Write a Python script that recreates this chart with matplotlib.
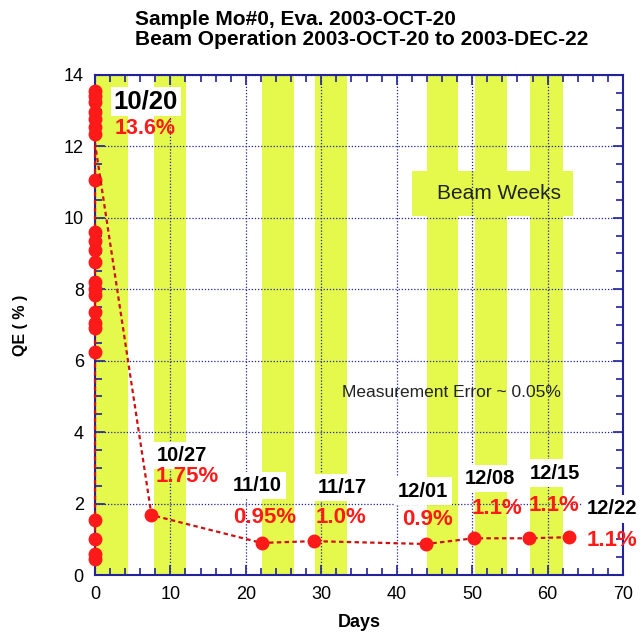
import matplotlib.pyplot as plt
from matplotlib.patches import Rectangle
from matplotlib.ticker import MultipleLocator

plt.rcParams['font.family'] = ['Liberation Sans', 'DejaVu Sans']

# QE measured on the evaporation day (day 0)
day0_qe = [13.55, 13.4, 13.25, 12.95, 12.75, 12.55, 12.35, 11.05, 9.6, 9.35, 9.1,
           8.75, 8.2, 8.0, 7.85, 7.35, 7.05, 6.9, 6.25, 1.55, 1.0, 0.6, 0.45]

# follow-up measurements during beam operation
days = [0, 7.5, 22.1, 29.0, 43.9, 50.2, 57.5, 62.8]
qe = [12.1, 1.68, 0.9, 0.95, 0.87, 1.03, 1.03, 1.06]

# beam weeks (start day, end day)
beam_weeks = [(0, 4.4), (7.8, 12.1), (22.1, 26.4), (29.2, 33.4),
              (44.0, 48.1), (50.4, 54.6), (57.7, 62.1)]

# labels: (text, x, y)
date_labels = [("10/27", 11.6, 3.35), ("11/10", 21.5, 2.5), ("11/17", 32.8, 2.45),
               ("12/01", 43.5, 2.35), ("12/08", 52.4, 2.7), ("12/15", 61.0, 2.85),
               ("12/22", 68.5, 1.85)]
pct_labels = [("1.75%", 12.2, 2.75), ("0.95%", 22.5, 1.6), ("1.0%", 32.6, 1.6),
              ("0.9%", 44.1, 1.56), ("1.1%", 53.3, 1.86), ("1.1%", 60.9, 1.95),
              ("1.1%", 68.5, 0.98)]

yellow = "#e4f94c"
navy = "#22229a"
red = "#ff1a1a"

fig = plt.figure(figsize=(6.41, 6.44), dpi=100)
ax = fig.add_axes([0.148, 0.107, 0.824, 0.777])

for a, b in beam_weeks:
    ax.axvspan(a, b, color=yellow, lw=0, zorder=0)

ax.add_patch(Rectangle((42.0, 10.05), 21.4, 1.25, color=yellow, lw=0, zorder=0))
ax.text(53.5, 10.68, "Beam Weeks", fontsize=15, ha='center', va='center', color='#222222')

ax.grid(True, which='major', color=navy, linestyle=(0, (1, 1.5)), lw=0.9, zorder=1)
ax.set_axisbelow(False)

ax.plot([0] * len(day0_qe), day0_qe, color='#cc1111', ls=(0, (2, 1.5)), lw=1.6,
        marker='o', ms=9, mfc=red, mec=red, zorder=4, clip_on=False)
ax.plot(days, qe, color='#cc1111', ls=(0, (2, 1.5)), lw=1.6, marker='o', ms=9,
        mfc=red, mec=red, markevery=list(range(1, len(days))), zorder=4)

ax.text(6.75, 13.25, "10/20", fontsize=18.5, fontweight='bold', ha='center', va='center',
        bbox=dict(facecolor='white', edgecolor='none', pad=2), zorder=5)
ax.text(6.6, 12.5, "13.6%", fontsize=15.5, fontweight='bold', ha='center', va='center',
        color=red, zorder=5)
for t, x, y in date_labels:
    ax.text(x, y, t, fontsize=14.5, fontweight='bold', ha='center', va='center',
            bbox=dict(facecolor='white', edgecolor='none', pad=3), zorder=5, clip_on=False)
for t, x, y in pct_labels:
    ax.text(x, y, t, fontsize=16, fontweight='bold', ha='center', va='center',
            color=red, zorder=5, clip_on=False)

ax.text(47.2, 5.1, "Measurement Error ~ 0.05%", fontsize=12.5, ha='center', va='center',
        color='#222222', zorder=5)

ax.set_xlim(0, 70)
ax.set_ylim(0, 14)
ax.xaxis.set_major_locator(MultipleLocator(10))
ax.xaxis.set_minor_locator(MultipleLocator(2))
ax.yaxis.set_major_locator(MultipleLocator(2))
ax.yaxis.set_minor_locator(MultipleLocator(0.5))
ax.tick_params(which='both', direction='in', top=True, right=True, color=navy,
               labelsize=13, pad=8)
ax.tick_params(which='major', length=7, width=1.2)
ax.tick_params(which='minor', length=5, width=1.2)
for s in ax.spines.values():
    s.set_color(navy)
    s.set_linewidth(1.5)

ax.set_xlabel("Days", fontsize=13, fontweight='bold', labelpad=8)
ax.set_ylabel("QE ( % )", fontsize=11.5, fontweight='bold', labelpad=26)

fig.text(0.21, 0.985, "Sample Mo#0, Eva. 2003-OCT-20\nBeam Operation 2003-OCT-20 to 2003-DEC-22",
         fontsize=15, fontweight='bold', ha='left', va='top', linespacing=1.1)

fig.savefig("out.png", dpi=100)
